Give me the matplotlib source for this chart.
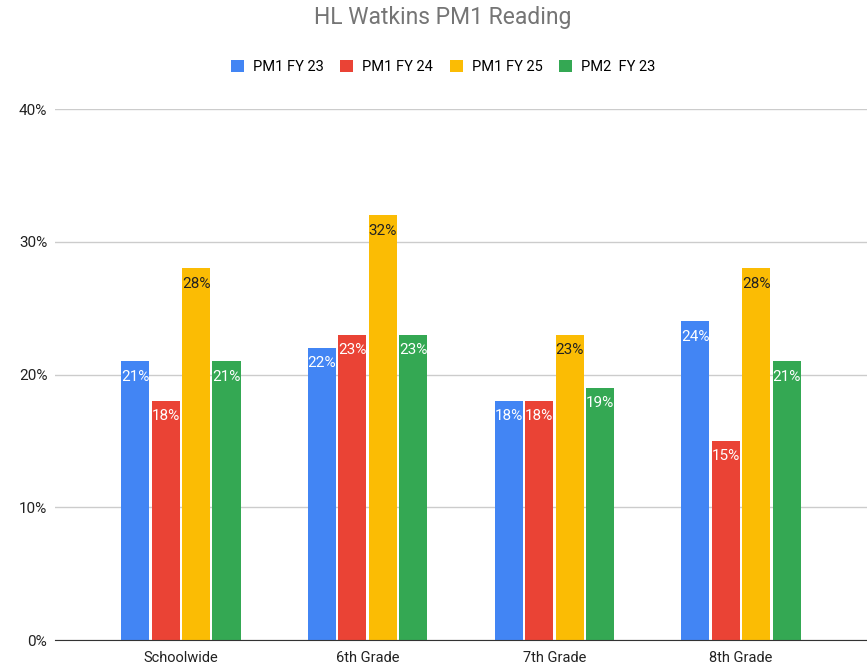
import numpy as np
import matplotlib
matplotlib.use('Agg')
from matplotlib import pyplot as plt
from matplotlib.patches import Patch

plt.rcParams['font.family'] = ['Roboto', 'DejaVu Sans']

categories = ['Schoolwide', '6th Grade', '7th Grade', '8th Grade']
series_names = ['PM1 FY 23', 'PM1 FY 24', 'PM1 FY 25', 'PM2  FY 23']
pm1_fy23 = [21, 22, 18, 24]
pm1_fy24 = [18, 23, 18, 15]
pm1_fy25 = [28, 32, 23, 28]
pm2_fy23 = [21, 23, 19, 21]
yticks = [0, 10, 20, 30, 40]

colors = ['#4285F4', '#EA4335', '#FBBC04', '#34A853']
label_colors = ['white', 'white', '#222222', 'white']

fig = plt.figure(figsize=(8.67, 6.66), dpi=100)
ax = fig.add_axes([0.0634, 0.039, 0.9366, 0.7973])

x = np.arange(len(categories))
width = 0.15
pitch = 0.163
series = [pm1_fy23, pm1_fy24, pm1_fy25, pm2_fy23]
for i, vals in enumerate(series):
    pos = x + (i - 1.5) * pitch
    ax.bar(pos, vals, width=width, color=colors[i], zorder=3)
    for p, v in zip(pos, vals):
        ax.annotate(f'{v}%', (p, v), xytext=(0, -6), textcoords='offset points',
                    ha='center', va='top', color=label_colors[i], fontsize=11, zorder=4)

ax.set_xlim(-0.674, 3.674)
ax.set_ylim(0, 40)
ax.set_yticks(yticks)
ax.set_yticklabels([f'{t}%' for t in yticks])
ax.set_xticks(x)
ax.set_xticklabels(categories)
ax.yaxis.grid(True, color='#cccccc', linewidth=1, zorder=0)
ax.tick_params(axis='x', length=0, labelsize=10.5, colors='#222222', pad=8)
ax.tick_params(axis='y', length=0, labelsize=11, colors='#222222', pad=5.5)
for s in ['top', 'right', 'left']:
    ax.spines[s].set_visible(False)
ax.spines['bottom'].set_color('#333333')
ax.spines['bottom'].set_zorder(5)

fig.text(0.511, 0.973, 'HL Watkins PM1 Reading', ha='center', va='center',
         fontsize=16.5, color='#757575')
handles = [Patch(facecolor=c, edgecolor='none') for c in colors]
fig.legend(handles, series_names, loc='center', bbox_to_anchor=(0.511, 0.899),
           ncol=4, frameon=False, fontsize=10.5, handlelength=0.9, handleheight=0.9,
           columnspacing=1.15, handletextpad=0.6)

fig.savefig('out.png', dpi=100)
